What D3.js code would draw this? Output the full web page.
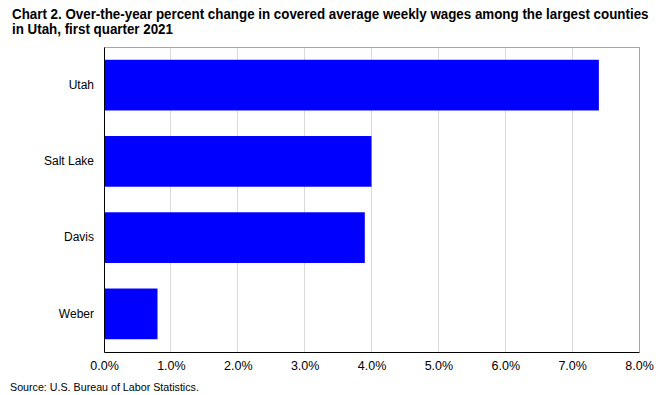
<!DOCTYPE html>
<html><head><meta charset="utf-8">
<script src="https://cdn.jsdelivr.net/npm/d3@7"></script>
<style>body{margin:0;background:#fff;} svg{display:block;}</style>
</head><body>
<svg id="c" width="663" height="395"></svg>
<script>
const categories = ["Utah", "Salt Lake", "Davis", "Weber"];
const values = [7.4, 4.0, 3.9, 0.8];
const xTicks = [0,1,2,3,4,5,6,7,8];
const titleLines = ["Chart 2. Over-the-year percent change in covered average weekly wages among the largest counties", "in Utah, first quarter 2021"];
const source = "Source: U.S. Bureau of Labor Statistics.";

const svg = d3.select("#c");
const m = {left:104, top:47, right:639, bottom:352};
const x = d3.scaleLinear().domain([0,8]).range([m.left, m.right]);
const y = d3.scaleBand().domain(categories).range([m.top, m.bottom]).paddingInner(0.335).paddingOuter(0.1675);

// title (condensed to mimic narrow face)
const tf = "'Liberation Sans Narrow','Arial Narrow',Arial,'Liberation Sans',sans-serif";
const tg = svg.append("g");
const tt = tg.selectAll("text").data(titleLines).join("text")
  .attr("x", 0).attr("y", (d,i)=>19+i*15.5)
  .style("font-family", tf).style("font-weight","bold").style("font-size","14px").attr("fill","#000")
  .text(d=>d);
const w0 = tt.nodes()[0].getComputedTextLength();
const sx = Math.min(1, 637 / w0);
tg.attr("transform", `translate(12,0) scale(${sx},1)`);

// grid
svg.append("g").selectAll("line").data(xTicks.slice(1,-1)).join("line")
  .attr("x1", d=>x(d)).attr("x2", d=>x(d)).attr("y1", m.top).attr("y2", m.bottom)
  .attr("stroke", "#d9d9d9").attr("stroke-width", 1).attr("shape-rendering","crispEdges");

// top/right border
svg.append("path").attr("d", `M${m.left},${m.top+0.5}H${m.right+0.5}V${m.bottom}`)
  .attr("fill","none").attr("stroke","#a6a6a6").attr("stroke-width",1).attr("shape-rendering","crispEdges");

// bars
svg.append("g").selectAll("rect").data(values).join("rect")
  .attr("x", x(0)).attr("y", (d,i)=>y(categories[i]))
  .attr("width", d=>x(d)-x(0)).attr("height", y.bandwidth())
  .attr("fill", "#0000ff");

// axes
const ff = "Arial,'Liberation Sans',sans-serif";
const xa = svg.append("g").attr("transform", `translate(0,${m.bottom})`)
  .call(d3.axisBottom(x).tickValues(xTicks).tickFormat(d=>d.toFixed(1)+"%").tickSize(0).tickPadding(9));
xa.select(".domain").attr("stroke","#000");
xa.selectAll("text").style("font-family",ff).style("font-size","12.5px").attr("fill","#000");

const ya = svg.append("g").attr("transform", `translate(${m.left},0)`)
  .call(d3.axisLeft(y).tickSize(0).tickPadding(10));
ya.select(".domain").attr("stroke","#000");
ya.selectAll("text").style("font-family",ff).style("font-size","12px").attr("fill","#000");

svg.append("text").attr("x", 10).attr("y", 391)
  .style("font-family", ff).style("font-size","10.7px").attr("fill","#000").text(source);
</script>
</body></html>
